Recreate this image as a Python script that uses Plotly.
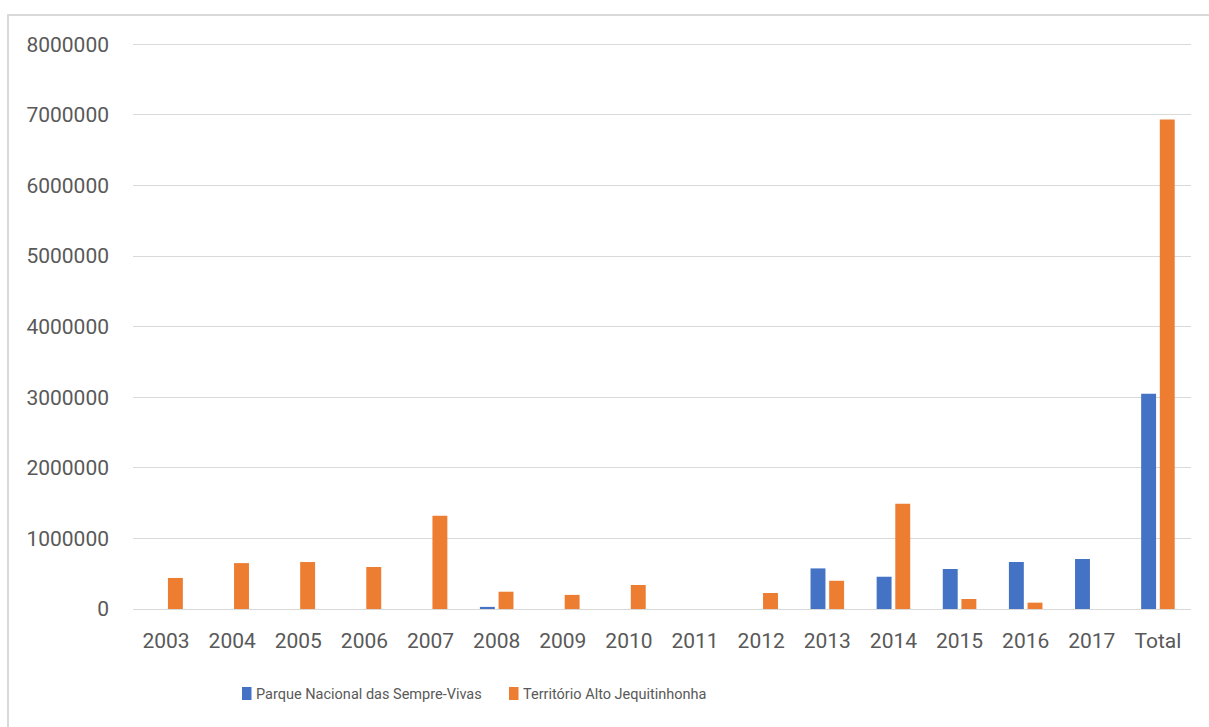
import plotly.graph_objects as go

# Annual values per area, 2003-2017 plus the overall total
categories = ["2003", "2004", "2005", "2006", "2007", "2008", "2009", "2010",
              "2011", "2012", "2013", "2014", "2015", "2016", "2017", "Total"]
parque_sempre_vivas = [0, 0, 0, 0, 0, 30000, 0, 0,
                       0, 0, 575000, 457000, 567000, 666000, 708000, 3050000]
territorio_alto_jequitinhonha = [440000, 650000, 665000, 595000, 1320000, 245000, 200000, 340000,
                                 0, 227000, 400000, 1490000, 142000, 90000, 0, 6935000]
y_ticks = [0, 1000000, 2000000, 3000000, 4000000, 5000000, 6000000, 7000000, 8000000]

series_names = ["Parque Nacional das Sempre-Vivas", "Território Alto Jequitinhonha"]
series_colors = ["#4472C4", "#ED7D31"]

W, H = 1209, 727
M_L, M_R, M_T, M_B = 133, 18, 40, 118
PLOT_W = W - M_L - M_R
PLOT_H = H - M_T - M_B


def px_x(px):
    """Page pixel x -> paper coordinate."""
    return (px - M_L) / PLOT_W


def px_y(py):
    """Page pixel y -> paper coordinate."""
    return (H - M_B - py) / PLOT_H


fig = go.Figure()
for name, values, color in zip(series_names,
                               [parque_sempre_vivas, territorio_alto_jequitinhonha],
                               series_colors):
    fig.add_trace(go.Bar(
        x=categories, y=values, name=name, showlegend=False,
        marker=dict(color=color, line=dict(width=0)),
    ))

tick_font = dict(family="Roboto", size=21, color="#595959")

# Legend row below the axis: colour key square followed by the series name
legend_shapes = []
legend_notes = []
legend_slots = [(242, 254), (509, 521)]
for (sq_x, tx_x), name, color in zip(legend_slots, series_names, series_colors):
    legend_shapes.append(dict(
        type="rect", xref="paper", yref="paper",
        x0=px_x(sq_x), x1=px_x(sq_x + 9.5), y0=px_y(700), y1=px_y(687),
        line=dict(width=0), fillcolor=color,
    ))
    legend_notes.append(dict(
        xref="paper", yref="paper", x=px_x(tx_x), y=px_y(694),
        xanchor="left", yanchor="middle", showarrow=False, text=name,
        font=dict(family="Roboto", size=14.5, color="#595959"),
    ))

fig.update_layout(
    width=W, height=H,
    margin=dict(l=M_L, r=M_R, t=M_T, b=M_B),
    paper_bgcolor="white", plot_bgcolor="white",
    barmode="group", bargap=0.436, bargroupgap=0.2,
    showlegend=False,
    xaxis=dict(
        type="category", showgrid=False, zeroline=False, showline=False,
        ticks="", tickfont=tick_font, ticklabelstandoff=17,
    ),
    yaxis=dict(
        range=[0, 8060000], tickmode="array", tickvals=y_ticks,
        ticktext=[str(v) for v in y_ticks],
        showgrid=True, gridcolor="#d9d9d9", gridwidth=1.3,
        zeroline=True, zerolinecolor="#d9d9d9", zerolinewidth=1.3,
        showline=False, ticks="", tickfont=tick_font, ticklabelstandoff=23,
    ),
    shapes=[dict(
        type="rect", xref="paper", yref="paper",
        x0=px_x(8), x1=px_x(1220), y0=px_y(740), y1=px_y(15),
        line=dict(color="#d9d9d9", width=2), fillcolor="rgba(0,0,0,0)",
        layer="below",
    )] + legend_shapes,
    annotations=legend_notes,
)

fig.write_html("out.html")
